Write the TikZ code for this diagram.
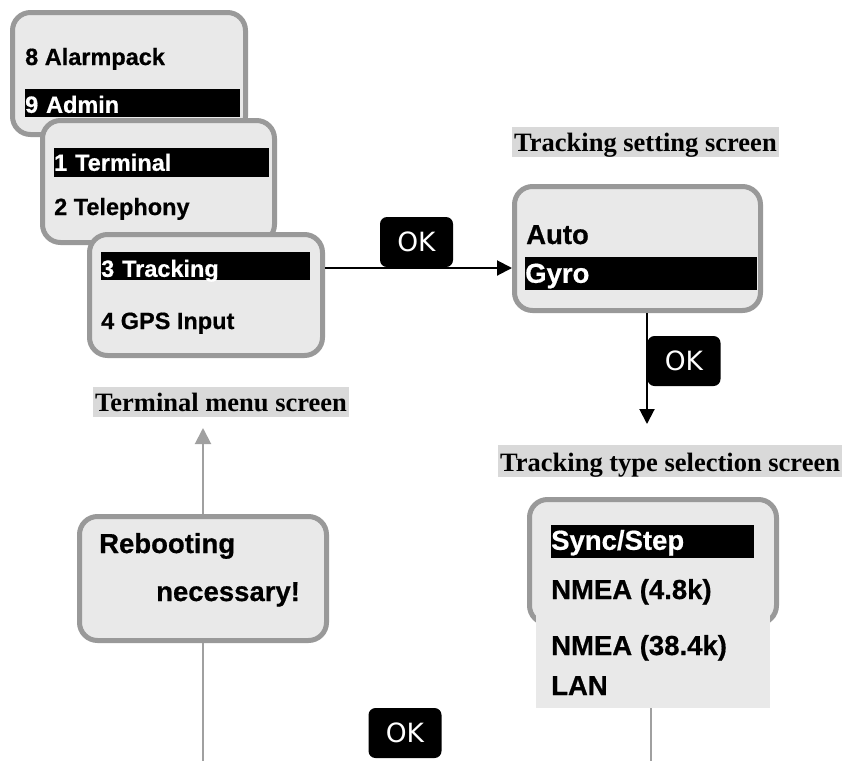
\documentclass[tikz,border=0pt]{standalone}
\usepackage{fontspec}
\usepackage{tikz}
\usetikzlibrary{arrows.meta}
\usetikzlibrary{positioning}
\newfontfamily\lcdfont{Liberation Sans}[BoldFeatures={FakeBold=0.6}]
\newfontfamily\keyfont{DejaVu Sans}
\newfontfamily\capfont{Liberation Serif}
\definecolor{screengray}{RGB}{153,153,153}
\definecolor{screenfill}{RGB}{233,233,233}
\definecolor{capgray}{RGB}{217,217,217}
\definecolor{backgray}{RGB}{160,160,160}

\begin{document}
\begin{tikzpicture}[
            x=1pt, y=-1pt,
            >={Triangle[length=15pt, width=15pt]},
            screen/.style={rectangle, draw=screengray, line width=5pt, fill=screenfill,
                           rounded corners=18pt},
            item/.style={anchor=base west, inner sep=0pt,
                         font=\lcdfont\bfseries\fontsize{23.5}{28}\selectfont},
            bigitem/.style={item, font=\lcdfont\bfseries\fontsize{27.5}{32}\selectfont},
            selbar/.style={anchor=south west, fill=black, text=white, inner xsep=0pt, inner ysep=0pt,
                           align=left, font=\lcdfont\bfseries\fontsize{23.5}{28}\selectfont},
            bigbar/.style={selbar, font=\lcdfont\bfseries\fontsize{27.5}{32}\selectfont},
            okkey/.style={rectangle, fill=black, text=white, rounded corners=7pt,
                          minimum width=73pt, minimum height=50pt, inner sep=0pt,
                          font=\keyfont\fontsize{26.5}{27}\selectfont},
            caption/.style={anchor=south west, fill=capgray, inner xsep=2pt, inner ysep=0pt,
                            text height=25pt, text depth=5pt,
                            font=\capfont\bfseries\fontsize{26.5}{30}\selectfont},
            flow/.style={->, line width=2pt},
            back/.style={line width=2pt, draw=backgray},
        ]

        \useasboundingbox (0,0) rectangle (843,761);

        % Terminal menu (three stacked pages)
        \node[screen, minimum width=233pt, minimum height=122pt] (pageadmin) at (129,73.5) {};
        \node[item] (alarmpack) at (25,65) {8 Alarmpack};
        \node[selbar, text width=215pt, text height=24pt, text depth=4pt] (admin) at (25,117) {9 Admin};

        \node[screen, minimum width=232pt, minimum height=122pt] (pageterminal) at (158.5,181.5) {};
        \node[selbar, text width=215pt, text height=23pt, text depth=6pt] (terminal) at (54,177) {1 Terminal};
        \node[item] (telephony) at (54,215) {2 Telephony};

        \node[screen, minimum width=233pt, minimum height=121pt] (pagetracking) at (206,295) {};
        \node[selbar, text width=209pt, text height=25pt, text depth=3pt] (tracking) at (101,280) {3 Tracking};
        \node[item] (gpsinput) at (101,329) {4 GPS Input};

        \node[caption] (menucap) at (93,417) {Terminal menu screen};

        % Tracking setting screen
        \node[caption] (settingcap) at (512,157) {Tracking setting screen};
        \node[screen, minimum width=246pt, minimum height=124pt] (setting) at (637.5,248.5) {};
        \node[bigitem] (auto) at (526,244) {Auto};
        \node[bigbar, text width=232pt, text height=26pt, text depth=7pt] (gyro) at (525,290) {Gyro};

        % OK from menu to setting
        \node[okkey] (okright) at (416.5,242) {OK};
        \draw[flow] ([yshift=27pt]pagetracking.east) -- ([yshift=27pt]pagetracking.east -| setting.west);

        % OK from setting to type selection
        \node[okkey] (okdown) at (684,361) {OK};
        \coordinate (typetip) at (647,424);
        \draw[flow] ([xshift=9.5pt]setting.south) -- (typetip);

        % Tracking type selection screen
        \begin{scope}
            \clip (498,445) rectangle (843,477);
            \node[caption, text height=27pt] (typecap) at (498,477) {Tracking type selection screen};
        \end{scope}
        \node[screen, minimum width=247pt, minimum height=124pt] (typescreen) at (653,561.5) {};
        \node[rectangle, fill=screenfill, minimum width=234pt, minimum height=108pt] (typelist) at (653,654) {};
        \node[bigbar, text width=203pt, text height=25pt, text depth=8pt] (syncstep) at (551,558) {Sync/Step};
        \node[bigitem] (nmeaslow) at (551,599) {NMEA (4.8k)};
        \node[bigitem] (nmeafast) at (551,655) {NMEA (38.4k)};
        \node[bigitem] (lan) at (551,695) {LAN};

        % Rebooting message
        \node[screen, minimum width=247pt, minimum height=124pt] (reboot) at (203,578.5) {};
        \node[bigitem] (rebooting) at (99,553) {Rebooting};
        \node[bigitem] (necessary) at (156,601) {necessary!};
        \coordinate (menutip) at (203,428);
        \coordinate (bottomedge) at (0,761);
        \draw[back, -{Triangle[length=16pt, width=16pt]}, fill=backgray] (reboot.north) -- (menutip);
        \draw[back] (reboot.south) -- (reboot.south |- bottomedge);
        \draw[back] ([xshift=-2pt]typelist.south) -- ([xshift=-2pt]typelist.south |- bottomedge);

        % OK at the bottom
        \node[okkey] (okbottom) at (405,733) {OK};

\end{tikzpicture}
\end{document}
